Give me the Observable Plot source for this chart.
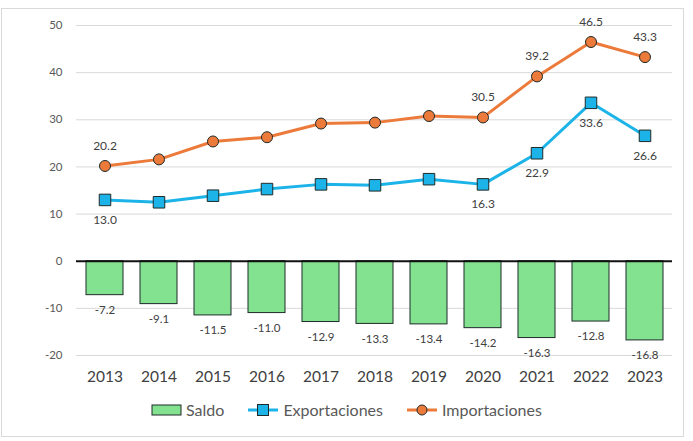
<!DOCTYPE html>
<html>
<head>
<meta charset="utf-8">
<script src="https://cdn.jsdelivr.net/npm/d3@7"></script>
<script src="https://cdn.jsdelivr.net/npm/@observablehq/plot@0.6"></script>
<style>
  body { margin: 0; background: #fff; font-family: Lato, "Noto Sans", sans-serif; }
  #frame { position: absolute; left: 1px; top: 8px; width: 681px; height: 427px; border: 1px solid #d9d9d9; }
  #chart { position: absolute; left: 0; top: 0; }
  #legend { position: absolute; left: 0; top: 400px; width: 693px; display: flex; justify-content: center; gap: 0; font-size: 16px; color: #595959; }
  .item { display: flex; align-items: center; margin: 0 12px; }
  .item svg { margin-right: 3px; }
</style>
</head>
<body>
<div id="frame"></div>
<div id="chart"></div>
<div id="legend"></div>
<script>
const years = ["2013","2014","2015","2016","2017","2018","2019","2020","2021","2022","2023"];
const saldo = [-7.2, -9.1, -11.5, -11.0, -12.9, -13.3, -13.4, -14.2, -16.3, -12.8, -16.8];
const exportaciones = [13.0, 12.5, 13.9, 15.3, 16.3, 16.1, 17.4, 16.3, 22.9, 33.6, 26.6];
const importaciones = [20.2, 21.6, 25.4, 26.3, 29.2, 29.4, 30.8, 30.5, 39.2, 46.5, 43.3];
const labeledYears = ["2013", "2020", "2021", "2022", "2023"];
const yTicks = [-20, -10, 0, 10, 20, 30, 40, 50];

const rows = years.map((y, i) => ({year: y, saldo: saldo[i], exp: exportaciones[i], imp: importaciones[i]}));
const labeled = rows.filter(d => labeledYears.includes(d.year));

const green = "#83e28f", blue = "#1cb4e8", orange = "#ec7a3a", edge = "#1f2a2a";

const chart = Plot.plot({
  width: 693,
  height: 395,
  marginLeft: 76,
  marginRight: 21,
  marginTop: 25,
  marginBottom: 40,
  style: {fontFamily: "Lato, 'Noto Sans', sans-serif", background: "transparent"},
  x: {type: "band", domain: years, paddingInner: 0.32, paddingOuter: 0.16},
  y: {domain: [-20, 50]},
  marks: [
    Plot.ruleY(yTicks.filter(t => t !== 0), {stroke: "#d9d9d9", strokeWidth: 1}),
    Plot.barY(rows, {x: "year", y: "saldo", fill: green, stroke: edge, strokeWidth: 1}),
    Plot.ruleY([0], {stroke: "#111", strokeWidth: 2}),
    Plot.line(rows, {x: "year", y: "imp", stroke: orange, strokeWidth: 3}),
    Plot.dot(rows, {x: "year", y: "imp", r: 5.5, fill: orange, stroke: edge, strokeWidth: 1}),
    Plot.line(rows, {x: "year", y: "exp", stroke: blue, strokeWidth: 3}),
    Plot.dot(rows, {x: "year", y: "exp", symbol: "square", r: 6.5, fill: blue, stroke: edge, strokeWidth: 1}),
    Plot.text(rows, {x: "year", y: "saldo", text: d => d.saldo.toFixed(1), dy: 15, fontSize: 11.5, fill: "#404040"}),
    Plot.text(labeled, {x: "year", y: "imp", text: d => d.imp.toFixed(1), dy: -20, fontSize: 12, fill: "#404040"}),
    Plot.text(labeled, {x: "year", y: "exp", text: d => d.exp.toFixed(1), dy: 20, fontSize: 12, fill: "#404040"}),
    Plot.axisY({ticks: yTicks, tickFormat: d => String(d), tickSize: 0, tickPadding: 14, fontSize: 11.5, color: "#595959", label: null}),
    Plot.axisX({tickSize: 0, tickPadding: 15, fontSize: 15.5, color: "#404040", label: null})
  ]
});
document.getElementById("chart").appendChild(chart);

const legend = document.getElementById("legend");
const items = [
  {name: "Saldo", icon: `<svg width="32" height="14"><rect x="1" y="2" width="29" height="10" fill="${green}" stroke="${edge}"/></svg>`},
  {name: "Exportaciones", icon: `<svg width="32" height="14"><line x1="0" y1="7" x2="30" y2="7" stroke="${blue}" stroke-width="3"/><rect x="9.5" y="1.5" width="11" height="11" fill="${blue}" stroke="${edge}"/></svg>`},
  {name: "Importaciones", icon: `<svg width="32" height="14"><line x1="0" y1="7" x2="30" y2="7" stroke="${orange}" stroke-width="3"/><circle cx="15" cy="7" r="5" fill="${orange}" stroke="${edge}"/></svg>`}
];
for (const it of items) {
  const div = document.createElement("div");
  div.className = "item";
  div.innerHTML = it.icon + `<span>${it.name}</span>`;
  legend.appendChild(div);
}
</script>
</body>
</html>
